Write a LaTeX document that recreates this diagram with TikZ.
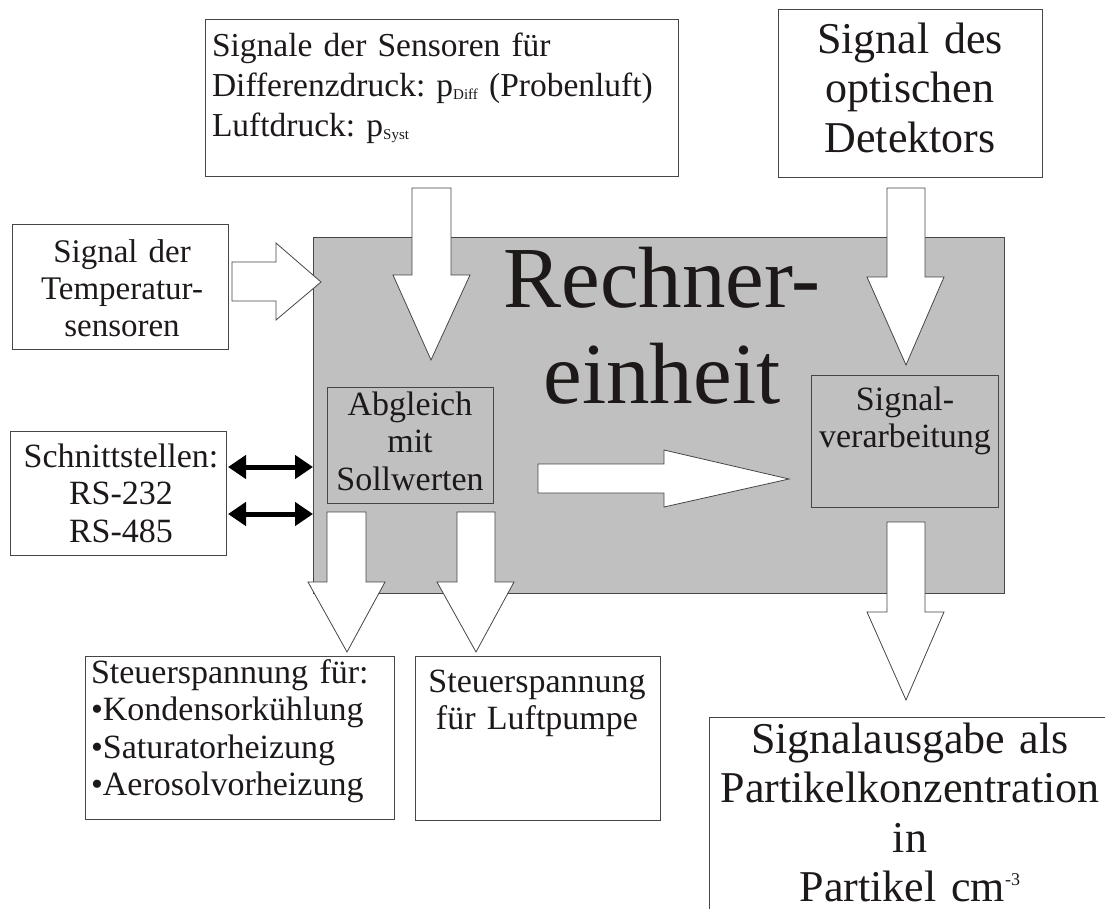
\documentclass[tikz,border=0pt]{standalone}
\usepackage{fontspec}
\setmainfont{Liberation Serif}
\usetikzlibrary{arrows.meta}
\definecolor{edgec}{RGB}{70,70,70}
\definecolor{grayfill}{RGB}{192,192,192}
\definecolor{txtc}{RGB}{30,25,25}
\tikzset{
  frame/.style={draw=edgec, line width=1pt, anchor=north west, inner sep=0pt, outer sep=0pt},
  wbox/.style={frame, fill=white},
  gbox/.style={frame, fill=grayfill},
  lbl/.style={inner sep=0pt, outer sep=0pt, anchor=base, align=center, text=txtc},
  small/.style={lbl, font=\fontsize{34}{37.5}\selectfont},
  big/.style={lbl, font=\fontsize{44}{49.5}\selectfont},
  blockarrow/.style={draw=edgec, line width=0.8pt, fill=white, line join=miter},
  dblarrow/.style={line width=5pt, draw=black, {Triangle[length=18pt,width=23pt]}-{Triangle[length=18pt,width=23pt]}}
}
\frenchspacing
\begin{document}
\frenchspacing
\begin{tikzpicture}[x=1pt,y=-1pt]
\clip (0,0) rectangle (1105,908);
\fill[white] (0,0) rectangle (1105,908);

% central unit
\node[gbox, minimum width=691pt, minimum height=356pt] (rech) at (313,237) {};
\node[lbl, font=\fontsize{87}{96}\selectfont, text width=420pt] (rechT) at (662,307) {Rechner-\\einheit};

\node[gbox, minimum width=166pt, minimum height=116pt] (abg) at (327,387) {};
\node[small, text width=166pt] (abgT) at (410,415) {Abgleich\\mit\\Sollwerten};

\node[gbox, minimum width=187pt, minimum height=132pt] (sig) at (811,375) {};
\node[small, text width=187pt] (sigT) at (905,410) {Signal-\\verarbeitung};

% input boxes
\node[wbox, minimum width=473pt, minimum height=157pt] (sens) at (205,19) {};
\node[lbl, align=left, anchor=base west, text width=465pt, font=\fontsize{33.5}{40}\selectfont] (sensT) at (212,56)
  {Signale der Sensoren für\\
   Differenzdruck: p\raisebox{-3pt}{\fontsize{15}{15}\selectfont Diff} (Probenluft)\\
   Luftdruck: p\raisebox{-3pt}{\fontsize{15}{15}\selectfont Syst}};

\node[wbox, minimum width=264pt, minimum height=168pt] (det) at (778,9) {};
\node[big, text width=264pt] (detT) at (910,53) {Signal des\\optischen\\Detektors};

\node[wbox, minimum width=216pt, minimum height=125pt] (temp) at (12,224) {};
\node[lbl, text width=216pt, font=\fontsize{33}{37}\selectfont] (tempT) at (122,262) {Signal der\\Temperatur-\\sensoren};

\node[wbox, minimum width=216pt, minimum height=124pt] (schn) at (10,431) {};
\node[small, text width=216pt] (schnT) at (121,467) {Schnittstellen:\\RS-232\\RS-485};

% output boxes
\node[wbox, minimum width=309pt, minimum height=163pt] (st1) at (85,656) {};
\node[small, align=left, anchor=base west, text width=300pt] (st1T) at (91,683)
  {Steuerspannung für:\\•Kondensorkühlung\\•Saturatorheizung\\•Aerosolvorheizung};

\node[wbox, minimum width=245pt, minimum height=164pt] (st2) at (415,656) {};
\node[small, text width=245pt] (st2T) at (537,692) {Steuerspannung\\für Luftpumpe};

\node[wbox, minimum width=430pt, minimum height=230pt] (out) at (709,717) {};
\node[big, text width=400pt] (outT) at (910,753)
  {Signalausgabe als\\Partikelkonzentration\\in\\Partikel cm\raisebox{16pt}{\fontsize{18}{18}\selectfont -3}};

% block arrows
\draw[blockarrow] (232,262) -- (276,262) -- (276,243) -- (321,282) -- (276,320) -- (276,301) -- (232,301) -- cycle;
\draw[blockarrow] (412,188) -- (451,188) -- (451,275) -- (470,275) -- (431,360) -- (393,275) -- (412,275) -- cycle;
\draw[blockarrow] (887,188) -- (925,188) -- (925,277) -- (944,277) -- (906,365) -- (867,277) -- (887,277) -- cycle;
\draw[blockarrow] (538,464) -- (664,464) -- (664,450) -- (789,479) -- (664,507) -- (664,493) -- (538,493) -- cycle;
\draw[blockarrow] (887,522) -- (925,522) -- (925,612) -- (944,612) -- (906,700) -- (867,612) -- (887,612) -- cycle;
\draw[blockarrow] (327,512) -- (366,512) -- (366,582) -- (385,582) -- (347,652) -- (308,582) -- (327,582) -- cycle;
\draw[blockarrow] (457,512) -- (495,512) -- (495,582) -- (514,582) -- (476,652) -- (437,582) -- (457,582) -- cycle;

% interface double arrows
\draw[dblarrow] ([xshift=2pt]schn.east |- 0,467) -- (rech.west |- 0,467);
\draw[dblarrow] ([xshift=2pt]schn.east |- 0,514) -- (rech.west |- 0,514);
\end{tikzpicture}
\end{document}
